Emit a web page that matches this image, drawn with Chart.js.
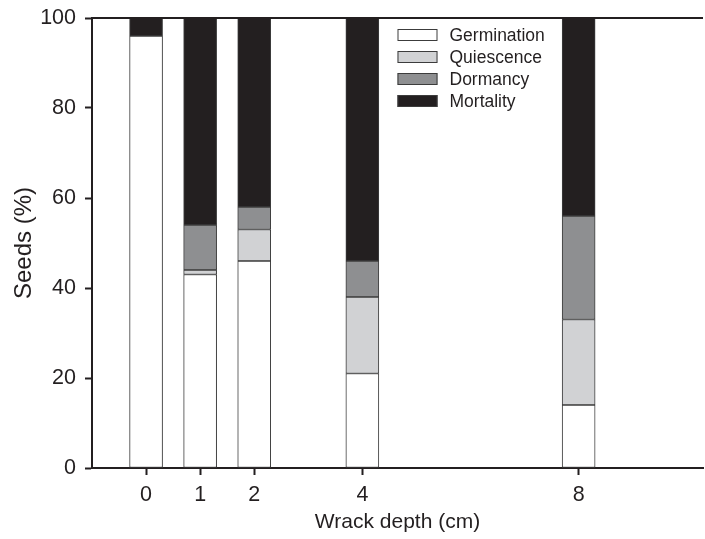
<!DOCTYPE html>
<html>
<head>
<meta charset="utf-8">
<script src="https://cdn.jsdelivr.net/npm/chart.js@4"></script>
<style>
  html, body { margin: 0; padding: 0; background: #fff; }
  #wrap { width: 705px; height: 539px; }
</style>
</head>
<body>
<div id="wrap"><canvas id="chart"></canvas></div>
<script>
// wrack depth (cm) and the share of seeds in each fate (%)
const depths = [0, 1, 2, 4, 8];
const germination = [96, 43, 46, 21, 14];
const quiescence = [0, 1, 7, 17, 19];
const dormancy = [0, 10, 5, 8, 23];
const mortality = [4, 46, 42, 54, 44];
const yTicks = [0, 20, 40, 60, 80, 100];

const INK = '#231f20';
const FONT = "'Liberation Sans', Arial, sans-serif";

const toPoints = (vals) => depths.map((d, i) => ({ x: d, y: vals[i] }));

const series = [
  { label: 'Germination', values: germination, color: '#ffffff' },
  { label: 'Quiescence', values: quiescence, color: '#d1d2d4' },
  { label: 'Dormancy', values: dormancy, color: '#8e8f91' },
  { label: 'Mortality', values: mortality, color: INK },
];

// legend inside the plot, plus the top frame line
const framePlugin = {
  id: 'frame',
  afterDraw(chart) {
    const { ctx, chartArea } = chart;
    ctx.save();
    ctx.strokeStyle = INK;
    ctx.lineWidth = 2;
    ctx.beginPath();
    ctx.moveTo(chartArea.left, chartArea.top);
    ctx.lineTo(chartArea.right, chartArea.top);
    ctx.stroke();

    const x0 = chart.scales.x.getPixelForValue(4.65);
    let y = chartArea.top + 17;
    ctx.font = '17.5px ' + FONT;
    ctx.textBaseline = 'middle';
    chart.data.datasets.forEach((ds) => {
      ctx.fillStyle = ds.backgroundColor;
      ctx.fillRect(x0, y - 6, 40, 12);
      ctx.strokeStyle = '#3c3c3c';
      ctx.lineWidth = 1;
      ctx.strokeRect(x0 + 0.5, y - 5.5, 39, 11);
      ctx.fillStyle = INK;
      ctx.fillText(ds.label, x0 + 52, y + 1);
      y += 22;
    });
    ctx.restore();
  }
};

new Chart(document.getElementById('chart'), {
  type: 'bar',
  data: {
    datasets: series.map((s) => ({
      label: s.label,
      data: toPoints(s.values),
      backgroundColor: s.color,
      borderColor: '#3c3c3c',
      borderWidth: 1,
      borderSkipped: false,
      barThickness: 33,
    }))
  },
  options: {
    responsive: true,
    maintainAspectRatio: false,
    animation: false,
    layout: { padding: { top: 18, right: 2, left: 0, bottom: 0 } },
    plugins: {
      legend: { display: false },
      tooltip: { enabled: false },
    },
    scales: {
      x: {
        type: 'linear',
        stacked: true,
        offset: false,
        min: -1,
        max: 10.3,
        afterBuildTicks: (axis) => { axis.ticks = depths.map((v) => ({ value: v })); },
        afterFit: (axis) => {
          axis.height = 71;
          axis.paddingLeft = 0;
          axis.paddingRight = 0;
        },
        grid: { offset: false, drawOnChartArea: false, tickLength: 7, tickColor: INK, tickWidth: 2 },
        border: { color: INK, width: 2 },
        ticks: { color: INK, font: { family: FONT, size: 21.5 }, padding: 7, maxRotation: 0 },
        title: {
          display: true,
          text: 'Wrack depth (cm)',
          color: INK,
          font: { family: FONT, size: 21 },
          padding: { top: 0, bottom: 4 },
        },
      },
      y: {
        stacked: true,
        min: 0,
        max: 100,
        afterBuildTicks: (axis) => { axis.ticks = yTicks.map((v) => ({ value: v })); },
        afterFit: (axis) => {
          axis.width = 92;
          axis.paddingTop = 0;
          axis.paddingBottom = 0;
        },
        grid: { drawOnChartArea: false, tickLength: 7, tickColor: INK, tickWidth: 2 },
        border: { color: INK, width: 2 },
        ticks: { color: INK, font: { family: FONT, size: 21.5 }, padding: 9 },
        title: {
          display: true,
          text: 'Seeds (%)',
          color: INK,
          font: { family: FONT, size: 24 },
          padding: { top: 10, bottom: 0 },
        },
      },
    },
  },
  plugins: [framePlugin],
});
</script>
</body>
</html>
